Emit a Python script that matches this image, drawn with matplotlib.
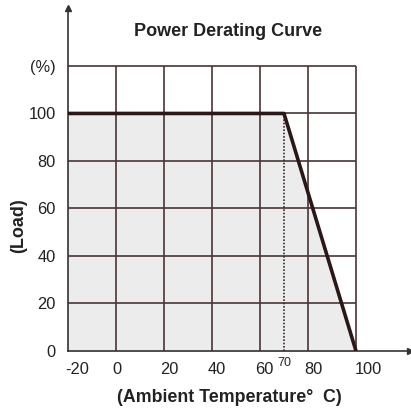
import matplotlib
matplotlib.use('Agg')
import matplotlib.pyplot as plt
import matplotlib.transforms as mtransforms

# derating curve data
temp = [-20, 70, 100]
load = [100, 100, 0]

x_ticks = [-20, 0, 20, 40, 60, 80, 100]
x_labels = ['-20', '0', '20', '40', '60', '80', '100']
y_ticks = [0, 20, 40, 60, 80, 100, 120]
y_labels = ['0', '20', '40', '60', '80', '100', '(%)']
knee = 70

plt.rcParams['font.family'] = ['Liberation Sans', 'DejaVu Sans']

fig = plt.figure(figsize=(4.11, 4.11), dpi=100)
ax = fig.add_axes([68 / 411, 60 / 411, 342 / 411, 343 / 411])
ax.set_xlim(-20, 122.5)
ax.set_ylim(0, 144.4)

grid_c = '#4a3434'
ax.fill_between(temp, load, color='#ececec', zorder=1)
ax.vlines(x_ticks[1:], 0, 120, color=grid_c, lw=1.2, zorder=2)
ax.hlines(y_ticks[1:], -20, 100, color=grid_c, lw=1.2, zorder=2)
ax.plot([knee, knee], [0, 100], color='#3a2a2a', lw=1.2, ls=(0, (1, 1)), zorder=3)
ax.plot(temp, load, color='#2a1818', lw=2.6, solid_capstyle='butt', zorder=4)

for s in ['top', 'right']:
    ax.spines[s].set_visible(False)
for s in ['left', 'bottom']:
    ax.spines[s].set_color('#333333')
    ax.spines[s].set_linewidth(1.2)
ax.plot(1, 0, '>', color='#333333', ms=5, transform=ax.get_yaxis_transform(), clip_on=False)
ax.plot(-20, 1, '^', color='#333333', ms=5, transform=ax.get_xaxis_transform(), clip_on=False)

ax.set_xticks(x_ticks)
ax.set_xticklabels(x_labels)
ax.set_yticks(y_ticks)
ax.set_yticklabels(y_labels)
ax.tick_params(length=0, labelsize=11.8, colors='#222222')
ax.tick_params(axis='x', pad=8)
ax.tick_params(axis='y', pad=9)

# nudge x labels like the printed sheet
shifts = [9, 1, 5, 5, 4, 5, 12]
for lab, dx in zip(ax.get_xticklabels(), shifts):
    lab.set_transform(lab.get_transform() + mtransforms.ScaledTranslation(dx / 100, 0, fig.dpi_scale_trans))

ax.text(knee, -2.5, '70', ha='center', va='top', fontsize=9, color='#222222')

fig.text(228 / 411, 1 - 31 / 411, 'Power Derating Curve', ha='center', va='center',
         fontsize=13, fontweight='bold', color='#222222')
fig.text(19 / 411, 1 - 226 / 411, '(Load)', ha='center', va='center', rotation=90,
         fontsize=13, fontweight='bold', color='#222222')
fig.text(229 / 411, 1 - 397 / 411, '(Ambient Temperature\u00b0  C)', ha='center', va='center',
         fontsize=12.8, fontweight='bold', color='#222222')

fig.savefig('out.png', dpi=100)
